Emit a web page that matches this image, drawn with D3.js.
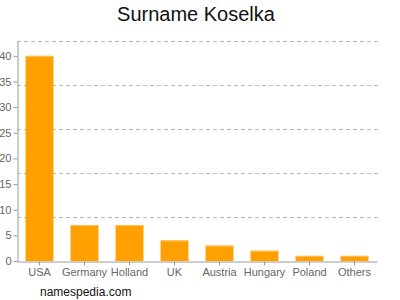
<!DOCTYPE html>
<html lang="en">
<head>
<meta charset="UTF-8">
<title>Surname Koselka</title>
<script src="https://d3js.org/d3.v7.min.js"></script>
<style>
  body { margin: 0; background: #fff; }
  text { font-family: "Liberation Sans", Arial, sans-serif; }
</style>
</head>
<body>
<script>
// data
const countries = ["USA", "Germany", "Holland", "UK", "Austria", "Hungary", "Poland", "Others"];
const counts = [40, 7, 7, 4, 3, 2, 1, 1];
const yTicks = [0, 5, 10, 15, 20, 25, 30, 35, 40];

const width = 400, height = 300;
const plotLeft = 17, plotRight = 377, plotTop = 41, plotBottom = 261;

const svg = d3.select("body").append("svg")
    .attr("width", width).attr("height", height);

const x = d3.scaleBand().domain(countries).range([plotLeft, plotRight])
    .paddingInner(0.38).paddingOuter(0.19);
const y = d3.scaleLinear().domain([0, 42.9]).range([plotBottom, plotTop]);

// dashed grid: 5 even lines over the plot height
const gridVals = d3.range(1, 6).map(i => i * 42.9 / 5);
svg.append("g").selectAll("line").data(gridVals).join("line")
    .attr("x1", plotLeft).attr("x2", plotRight + 3)
    .attr("y1", d => Math.round(y(d)) + 0.5).attr("y2", d => Math.round(y(d)) + 0.5)
    .attr("stroke", "#bbb").attr("stroke-dasharray", "4,3");

// bars
svg.append("g").selectAll("rect").data(counts).join("rect")
    .attr("x", (d, i) => x(countries[i]))
    .attr("width", x.bandwidth())
    .attr("y", d => y(d))
    .attr("height", d => y(0) - y(d))
    .attr("fill", "#ffa000");

svg.append("g").selectAll("line").data(counts).join("line")
    .attr("x1", (d, i) => x(countries[i]))
    .attr("x2", (d, i) => x(countries[i]) + x.bandwidth())
    .attr("y1", d => y(d) + 0.5).attr("y2", d => y(d) + 0.5)
    .attr("stroke", "#ffc060");

// y axis
const yAxis = svg.append("g").attr("transform", `translate(${plotLeft + 0.5},0)`)
    .call(d3.axisLeft(y).tickValues(yTicks).tickSize(4).tickPadding(2).tickSizeOuter(0));
yAxis.select(".domain").attr("stroke", "#999");
yAxis.selectAll(".tick line").attr("stroke", "#999");
yAxis.selectAll(".tick text").attr("fill", "#666").style("font-size", "11px");

// x axis
const xAxis = svg.append("g").attr("transform", `translate(0,${plotBottom + 0.5})`)
    .call(d3.axisBottom(x).tickSize(4).tickPadding(3).tickSizeOuter(0));
xAxis.select(".domain").attr("stroke", "#999");
xAxis.selectAll(".tick line").attr("stroke", "#999");
xAxis.selectAll(".tick text").attr("fill", "#666").style("font-size", "11px");

// title
svg.append("text").attr("x", 196).attr("y", 21)
    .attr("text-anchor", "middle").style("font-size", "20px").attr("fill", "#111")
    .text("Surname Koselka");

// footer
svg.append("text").attr("x", 40).attr("y", 296)
    .style("font-size", "12px").attr("fill", "#111")
    .text("namespedia.com");
</script>
</body>
</html>
